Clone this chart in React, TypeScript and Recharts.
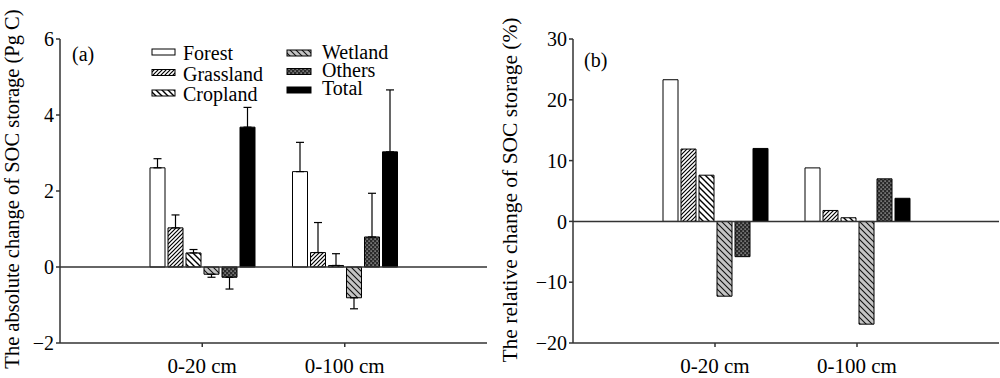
import { BarChart, Bar, XAxis, YAxis, ReferenceLine, ErrorBar } from 'recharts';

const depths = ['0-20 cm', '0-100 cm'];
const landTypes = ['Forest', 'Grassland', 'Cropland', 'Wetland', 'Others', 'Total'];

// (a) absolute change, Pg C, with one-sided error
const forestAbs = [2.61, 2.51];
const grassAbs = [1.03, 0.38];
const cropAbs = [0.37, 0.04];
const wetAbs = [-0.19, -0.81];
const otherAbs = [-0.27, 0.79];
const totalAbs = [3.68, 3.03];

const forestErr = [0.24, 0.77];
const grassErr = [0.34, 0.79];
const cropErr = [0.09, 0.31];
const wetErr = [0.08, 0.29];
const otherErr = [0.31, 1.15];
const totalErr = [0.52, 1.63];

// (b) relative change, %
const forestRel = [23.3, 8.8];
const grassRel = [11.9, 1.8];
const cropRel = [7.6, 0.6];
const wetRel = [-12.3, -16.9];
const otherRel = [-5.8, 7.0];
const totalRel = [12.0, 3.8];

const absTicks = [-2, 0, 2, 4, 6];
const relTicks = [-20, -10, 0, 10, 20, 30];

const keys = ['forest', 'grass', 'crop', 'wet', 'other', 'total'];
const absSeries = [forestAbs, grassAbs, cropAbs, wetAbs, otherAbs, totalAbs];
const absErrs = [forestErr, grassErr, cropErr, wetErr, otherErr, totalErr];
const relSeries = [forestRel, grassRel, cropRel, wetRel, otherRel, totalRel];

const absData = depths.map((depth, i) => {
  const row: any = { depth };
  keys.forEach((k, j) => {
    const v = absSeries[j][i];
    const e = absErrs[j][i];
    row[k] = v;
    // error only drawn away from zero
    row[k + 'Err'] = v >= 0 ? [0, e] : [e, 0];
  });
  return row;
});

const relData = depths.map((depth, i) => {
  const row: any = { depth };
  keys.forEach((k, j) => {
    row[k] = relSeries[j][i];
  });
  return row;
});

const FONT = 'Liberation Serif, DejaVu Serif, serif';
const AXIS = '#333';

const patterns = (p: string) => (
  <defs>
    <pattern id={`${p}-grass`} width="4" height="4" patternUnits="userSpaceOnUse">
      <rect width="4" height="4" fill="#fff" />
      <path d="M0,4 L4,0 M-1,1 L1,-1 M3,5 L5,3" stroke="#000" strokeWidth="1.2" />
    </pattern>
    <pattern id={`${p}-crop`} width="6" height="6" patternUnits="userSpaceOnUse">
      <rect width="6" height="6" fill="#fff" />
      <path d="M0,0 L6,6 M-1,5 L1,7 M5,-1 L7,1" stroke="#000" strokeWidth="1.4" />
    </pattern>
    <pattern id={`${p}-wet`} width="6" height="6" patternUnits="userSpaceOnUse">
      <rect width="6" height="6" fill="#c4c4c4" />
      <path d="M0,0 L6,6 M-1,5 L1,7 M5,-1 L7,1" stroke="#111" strokeWidth="1.1" />
    </pattern>
    <pattern id={`${p}-other`} width="4" height="4" patternUnits="userSpaceOnUse">
      <rect width="4" height="4" fill="#2a2a2a" />
      <rect x="0.5" y="0.5" width="1.2" height="1.2" fill="#c8c8c8" />
      <rect x="2.5" y="2.5" width="1.2" height="1.2" fill="#c8c8c8" />
    </pattern>
  </defs>
);

const fills = (p: string) => ['#fff', `url(#${p}-grass)`, `url(#${p}-crop)`, `url(#${p}-wet)`, `url(#${p}-other)`, '#000'];

const minus = (v: number) => String(v).replace('-', '\u2212');

interface PanelProps {
  id: string;
  data: any[];
  yWidth: number;
  marginRight: number;
  domain: [number, number];
  ticks: number[];
  withErr: boolean;
}

const Panel = ({ id, data, yWidth, marginRight, domain, ticks, withErr }: PanelProps) => {
  const plotW = 500 - yWidth - marginRight;
  const pad = Math.round(plotW / 6);
  const f = fills(id);
  return (
    <BarChart
      width={500}
      height={378}
      data={data}
      margin={{ top: 39, right: marginRight, left: 0, bottom: 0 }}
      barSize={15}
      barGap={3}
      style={{ fontFamily: FONT }}
    >
      {patterns(id)}
      <XAxis
        dataKey="depth"
        height={35}
        padding={{ left: pad, right: pad }}
        stroke={AXIS}
        strokeWidth={1.5}
        tickSize={4}
        tickMargin={11}
        tick={{ fill: '#000', fontSize: 21, fontFamily: FONT }}
      />
      <XAxis xAxisId="top" dataKey="depth" orientation="top" height={0} tick={false} tickLine={false} stroke={AXIS} strokeWidth={1.5} />
      <YAxis
        width={yWidth}
        domain={domain}
        ticks={ticks}
        interval={0}
        allowDataOverflow
        stroke={AXIS}
        strokeWidth={1.5}
        tickSize={4}
        tickMargin={2}
        tickFormatter={minus}
        tick={{ fill: '#000', fontSize: 20, fontFamily: FONT }}
      />
      <YAxis yAxisId="r" orientation="right" width={0} tick={false} tickLine={false} stroke={AXIS} strokeWidth={1.5} />
      <ReferenceLine y={0} stroke={AXIS} strokeWidth={1.5} />
      {keys.map((k, j) => (
        <Bar key={k} dataKey={k} name={landTypes[j]} fill={f[j]} stroke="#000" strokeWidth={1} isAnimationActive={false}>
          {withErr && <ErrorBar dataKey={k + 'Err'} width={4} stroke="#000" strokeWidth={1.2} isAnimationActive={false} />}
        </Bar>
      ))}
    </BarChart>
  );
};

const legendCol1 = [0, 1, 2];
const legendCol2 = [3, 4, 5];

export default function App() {
  const lf = fills('lg');
  return (
    <div style={{ position: 'absolute', left: 0, top: 0, width: 1000, height: 378, background: '#fff', fontFamily: FONT }}>
      <div style={{ position: 'absolute', left: 0, top: 0 }}>
        <Panel id="pa" data={absData} yWidth={60} marginRight={13} domain={[-2, 6]} ticks={absTicks} withErr />
      </div>
      <div style={{ position: 'absolute', left: 500, top: 0 }}>
        <Panel id="pb" data={relData} yWidth={73} marginRight={1} domain={[-20, 30]} ticks={relTicks} withErr={false} />
      </div>
      <svg width={1000} height={378} style={{ position: 'absolute', left: 0, top: 0, pointerEvents: 'none', fontFamily: FONT }}>
        {patterns('lg')}
        <text transform="translate(18.5,189) rotate(-90)" textAnchor="middle" fontSize={20.5}>
          The absolute change of SOC storage (Pg C)
        </text>
        <text transform="translate(517,190) rotate(-90)" textAnchor="middle" fontSize={21.5}>
          The relative change of SOC storage (%)
        </text>
        <text x={72} y={61} fontSize={20}>(a)</text>
        <text x={584} y={67} fontSize={20}>(b)</text>
        {legendCol1.map((j, r) => (
          <g key={j}>
            <rect x={152} y={49 + r * 20.5} width={23} height={6} fill={lf[j]} stroke="#000" strokeWidth={1} />
            <text x={183} y={60 + r * 20.5} fontSize={20}>{landTypes[j]}</text>
          </g>
        ))}
        {legendCol2.map((j, r) => (
          <g key={j}>
            <rect x={287} y={50 + r * 18.5} width={24} height={6} fill={lf[j]} stroke="#000" strokeWidth={1} />
            <text x={322} y={59 + r * 18} fontSize={20}>{landTypes[j]}</text>
          </g>
        ))}
      </svg>
    </div>
  );
}
